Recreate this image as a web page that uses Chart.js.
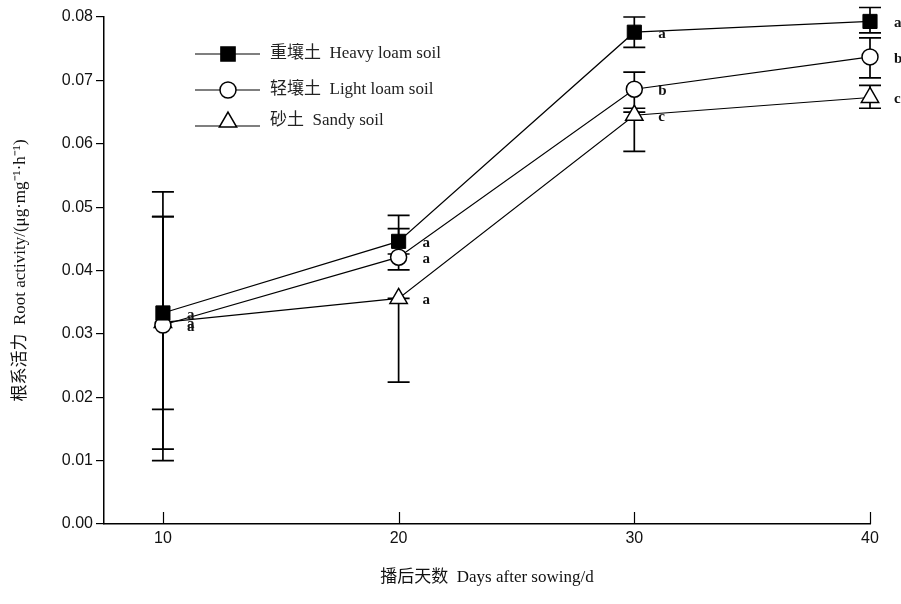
<!DOCTYPE html>
<html lang="zh">
<head>
<meta charset="UTF-8">
<title>Root activity</title>
<script src="https://cdn.jsdelivr.net/npm/chart.js"></script>
<style>
  body { margin: 0; background: #fff; }
</style>
</head>
<body>
<canvas id="chart" width="901" height="604"></canvas>
<script>
// data
const days = [10, 20, 30, 40];
const yTicks = [0, 0.01, 0.02, 0.03, 0.04, 0.05, 0.06, 0.07, 0.08];

const heavy = [0.0333, 0.0446, 0.0776, 0.0793];
const heavyLow = [0.0181, 0.0426, 0.0752, 0.0775];
const heavyHigh = [0.0485, 0.0487, 0.0800, 0.0815];
const heavySig = ['a', 'a', 'a', 'a'];

const light = [0.0314, 0.0421, 0.0686, 0.0737];
const lightLow = [0.0100, 0.0401, 0.0656, 0.0704];
const lightHigh = [0.0524, 0.0466, 0.0713, 0.0767];
const lightSig = ['a', 'a', 'b', 'b'];

const sandy = [0.0318, 0.0356, 0.0645, 0.0673];
const sandyLow = [0.0118, 0.0224, 0.0588, 0.0656];
const sandyHigh = [0.0485, 0.0356, 0.0650, 0.0692];
const sandySig = ['a', 'a', 'c', 'c'];

const serif = "'Liberation Serif', 'Times New Roman', 'Noto Sans CJK SC', serif";
const sans = "'Liberation Sans', Arial, sans-serif";

const lows = [heavyLow, lightLow, sandyLow];
const highs = [heavyHigh, lightHigh, sandyHigh];
const sigs = [heavySig, lightSig, sandySig];

// error bars under the markers
const errorBars = {
  id: 'errorBars',
  beforeDatasetsDraw(chart) {
    const ctx = chart.ctx;
    const y = chart.scales.y;
    ctx.save();
    ctx.strokeStyle = '#000';
    ctx.lineWidth = 1.7;
    chart.data.datasets.forEach((ds, i) => {
      chart.getDatasetMeta(i).data.forEach((pt, j) => {
        const top = y.getPixelForValue(highs[i][j]);
        const bot = y.getPixelForValue(lows[i][j]);
        ctx.beginPath();
        ctx.moveTo(pt.x, top); ctx.lineTo(pt.x, bot);
        ctx.moveTo(pt.x - 11, top); ctx.lineTo(pt.x + 11, top);
        ctx.moveTo(pt.x - 11, bot); ctx.lineTo(pt.x + 11, bot);
        ctx.stroke();
      });
    });
    ctx.restore();
  }
};

// letters, inward x ticks, legend
const extras = {
  id: 'extras',
  afterDraw(chart) {
    const ctx = chart.ctx;
    const xs = chart.scales.x;
    const area = chart.chartArea;
    ctx.save();
    ctx.strokeStyle = '#000';
    ctx.lineWidth = 1.2;
    days.forEach(d => {
      const px = Math.round(xs.getPixelForValue(d)) + 0.5;
      ctx.beginPath();
      ctx.moveTo(px, area.bottom); ctx.lineTo(px, area.bottom - 12);
      ctx.stroke();
    });

    ctx.fillStyle = '#111';
    ctx.font = 'bold 15px ' + serif;
    ctx.textBaseline = 'middle';
    ctx.textAlign = 'left';
    chart.data.datasets.forEach((ds, i) => {
      chart.getDatasetMeta(i).data.forEach((pt, j) => {
        ctx.fillText(sigs[i][j], pt.x + 24, pt.y + 2);
      });
    });

    const rows = [54, 90, 121];
    const lineRows = [54, 90, 126];
    chart.data.datasets.forEach((ds, i) => {
      ctx.strokeStyle = '#000';
      ctx.lineWidth = 1.2;
      ctx.beginPath();
      ctx.moveTo(195, lineRows[i]); ctx.lineTo(260, lineRows[i]);
      ctx.stroke();
      ctx.fillStyle = ds.pointBackgroundColor;
      ctx.strokeStyle = '#000';
      ctx.lineWidth = 1.5;
      Chart.helpers.drawPoint(ctx, {
        pointStyle: ds.pointStyle, radius: ds.pointRadius, rotation: 0, borderWidth: 1.5
      }, 228, i === 2 ? 122 : rows[i]);
      ctx.fillStyle = '#222';
      ctx.font = '17px ' + serif;
      ctx.fillText(ds.label, 270, rows[i]);
    });
    ctx.restore();
  }
};

const toPoints = arr => arr.map((v, i) => ({ x: days[i], y: v }));

new Chart(document.getElementById('chart'), {
  type: 'line',
  data: {
    datasets: [
      {
        label: '重壤土  Heavy loam soil',
        data: toPoints(heavy), clip: false,
        borderColor: '#000', borderWidth: 1.2,
        pointStyle: 'rect', pointRadius: 10,
        pointBackgroundColor: '#000', pointBorderColor: '#000', pointBorderWidth: 1
      },
      {
        label: '轻壤土  Light loam soil',
        data: toPoints(light), clip: false,
        borderColor: '#000', borderWidth: 1.2,
        pointStyle: 'circle', pointRadius: 8,
        pointBackgroundColor: '#fff', pointBorderColor: '#000', pointBorderWidth: 1.5
      },
      {
        label: '砂土  Sandy soil',
        data: toPoints(sandy), clip: false,
        borderColor: '#000', borderWidth: 1.2,
        pointStyle: 'triangle', pointRadius: 10,
        pointBackgroundColor: '#fff', pointBorderColor: '#000', pointBorderWidth: 1.5
      }
    ]
  },
  options: {
    responsive: false,
    animation: false,
    layout: { padding: { left: 0, right: 31, top: 17, bottom: 0 } },
    plugins: { legend: { display: false }, tooltip: { enabled: false } },
    scales: {
      x: {
        type: 'linear', min: 7.5, max: 40,
        afterBuildTicks: s => { s.ticks = days.map(v => ({ value: v })); },
        afterFit: s => { s.height = 80; },
        grid: { drawOnChartArea: false, drawTicks: false },
        border: { color: '#000', width: 1.5 },
        ticks: { color: '#111', font: { family: sans, size: 16 }, padding: 5 },
        title: {
          display: true, text: '播后天数  Days after sowing/d', color: '#111',
          font: { family: serif, size: 17 }, padding: { top: 0, bottom: 16 }
        }
      },
      y: {
        min: 0, max: 0.08,
        afterBuildTicks: s => { s.ticks = yTicks.map(v => ({ value: v })); },
        afterFit: s => { s.width = 104; },
        grid: { drawOnChartArea: false, drawTicks: true, tickLength: 8, color: '#000', lineWidth: 1.2 },
        border: { color: '#000', width: 1.5 },
        ticks: { color: '#111', font: { family: sans, size: 16 }, padding: 3, callback: v => v.toFixed(2) },
        title: {
          display: true, text: '根系活力  Root activity/(μg·mg⁻¹·h⁻¹)', color: '#111',
          font: { family: serif, size: 17 }, padding: { top: 10, bottom: 0 }
        }
      }
    }
  },
  plugins: [errorBars, extras]
});
</script>
</body>
</html>
